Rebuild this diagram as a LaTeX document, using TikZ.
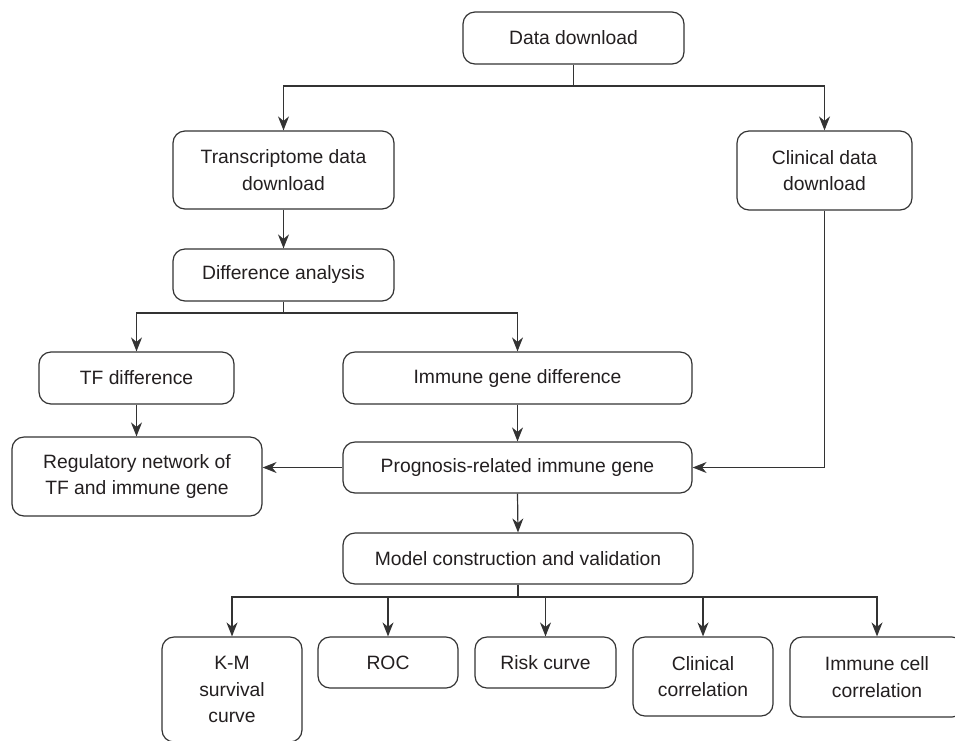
\documentclass[tikz,border=0pt]{standalone}
\usepackage{fontspec}
\setmainfont{Liberation Sans}
\usetikzlibrary{arrows.meta}
\definecolor{linec}{HTML}{333333}
\definecolor{textc}{HTML}{231F20}
\begin{document}
\begin{tikzpicture}[x=1pt,y=-1pt,
  box/.style={draw=linec, line width=1.2pt, rounded corners=12pt, align=center, inner sep=0pt, text=textc, font=\fontsize{19.3}{26.7}\selectfont},
  conn/.style={draw=linec, line width=1.2pt},
  arr/.style={conn, -{Stealth[length=14pt,width=11pt,inset=4.5pt]}}]
\useasboundingbox[fill=white] (0,0) rectangle (955,740);

\node[box, minimum width=221pt, minimum height=52pt] (dd) at (573.5,38) {Data download};
\node[box, minimum width=221pt, minimum height=78pt] (tr) at (283.5,170) {Transcriptome data\\download};
\node[box, minimum width=175pt, minimum height=79pt] (cl) at (824.5,170.5) {Clinical data\\download};
\node[box, minimum width=221pt, minimum height=52pt] (da) at (283.5,275) {Difference analysis};
\node[box, minimum width=195pt, minimum height=52pt] (tf) at (136.5,378) {TF difference};
\node[box, minimum width=349pt, minimum height=52pt] (ig) at (517.5,378) {Immune gene difference};
\node[box, minimum width=250pt, minimum height=79pt] (rn) at (137,476.5) {Regulatory network of\\TF and immune gene};
\node[box, minimum width=349pt, minimum height=51pt] (pr) at (517.5,467.5) {Prognosis-related immune gene};
\node[box, minimum width=350pt, minimum height=51pt] (mc) at (518,558.5) {Model construction and validation};
\node[box, minimum width=140pt, minimum height=105pt] (km) at (232,689.5) {K-M\\survival\\curve};
\node[box, minimum width=140pt, minimum height=51pt] (roc) at (388,662.5) {ROC};
\node[box, minimum width=141pt, minimum height=51pt] (rc) at (545.5,662.5) {Risk curve};
\node[box, minimum width=140pt, minimum height=79pt] (cc) at (703,676.5) {Clinical\\correlation};
\node[box, minimum width=174pt, minimum height=80pt] (ic) at (877,677) {Immune cell\\correlation};

\coordinate (j1) at (573.5,86);
\draw[conn] (dd.south) -- (j1);
\draw[arr] (j1) -| (tr.north);
\draw[arr] (j1) -| (cl.north);
\draw[arr] (tr.south) -- (da.north);
\coordinate (j2) at (283.5,313);
\draw[conn] (da.south) -- (j2);
\draw[arr] (j2) -| (tf.north);
\draw[arr] (j2) -| (ig.north);
\draw[arr] (tf.south) -- (tf.south |- rn.north);
\draw[arr] (ig.south) -- (pr.north);
\draw[arr] (pr.west) -- (pr.west -| rn.east);
\draw[arr] (cl.south) |- (pr.east);
\draw[arr] (pr.south) -- (mc.north);
\coordinate (j3) at (518,597);
\draw[conn] (mc.south) -- (j3);
\foreach \n in {km,roc,rc,cc,ic} \draw[arr] (j3) -| (\n.north);
\end{tikzpicture}
\end{document}
